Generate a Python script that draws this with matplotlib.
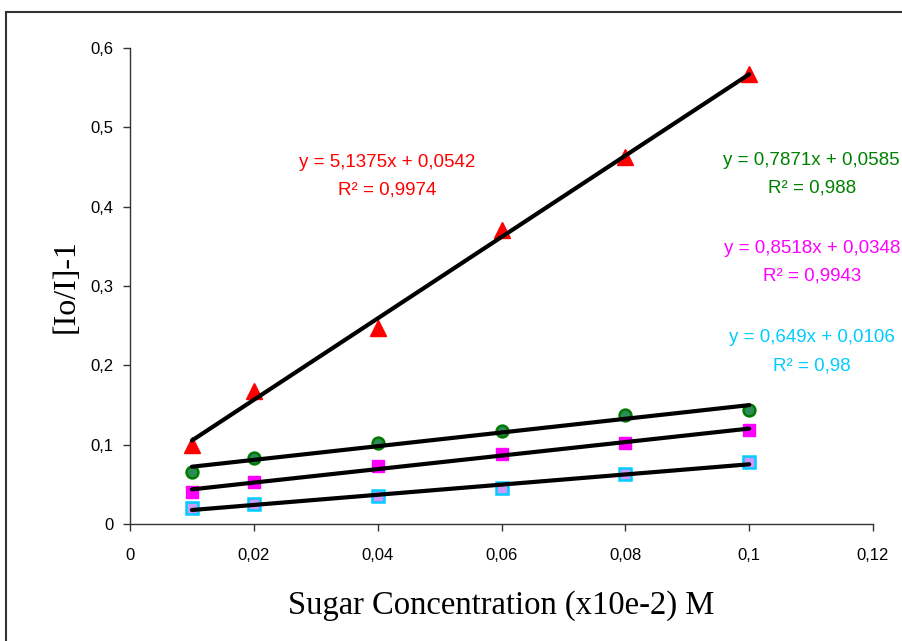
import numpy as np
import matplotlib
matplotlib.use("Agg")
import matplotlib.pyplot as plt
from matplotlib.patches import Rectangle

conc = [0.01, 0.02, 0.04, 0.06, 0.08, 0.1]
red_vals = [0.100, 0.168, 0.247, 0.370, 0.462, 0.567]
green_vals = [0.066, 0.083, 0.102, 0.117, 0.137, 0.144]
magenta_vals = [0.040, 0.053, 0.073, 0.088, 0.102, 0.119]
cyan_vals = [0.020, 0.025, 0.035, 0.045, 0.063, 0.078]

red_eq = ["y = 5,1375x + 0,0542", "R² = 0,9974"]
green_eq = ["y = 0,7871x + 0,0585", "R² = 0,988"]
magenta_eq = ["y = 0,8518x + 0,0348", "R² = 0,9943"]
cyan_eq = ["y = 0,649x + 0,0106", "R² = 0,98"]

xticks = [0, 0.02, 0.04, 0.06, 0.08, 0.1, 0.12]
yticks = [0, 0.1, 0.2, 0.3, 0.4, 0.5, 0.6]

fig = plt.figure(figsize=(9.02, 6.41), dpi=100)
ax = fig.add_axes([0.1441, 0.1825, 0.8238, 0.7426])

# outer frame (right/bottom run off the picture)
fig.patches.append(Rectangle((6 / 902, -0.2), 1.2, 1.2 - 12 / 641,
                             transform=fig.transFigure, fill=False,
                             edgecolor="#333333", linewidth=1.5))

series = [
    (red_vals, dict(marker="^", color="red", mec="red", ms=12)),
    (green_vals, dict(marker="o", color="#2E8B57", mec="#007A00", mew=1.8, ms=8.5)),
    (magenta_vals, dict(marker="s", color="#FF00FF", mec="#FF00FF", ms=8.5)),
    (cyan_vals, dict(marker="s", color="#CC99FF", mec="#00CCFF", mew=1.8, ms=8)),
]

x = np.array(conc)
for vals, st in series:
    ax.plot(conc, vals, linestyle="none", zorder=2, **st)
    k, b = np.polyfit(x, vals, 1)
    xs = np.array([conc[0], conc[-1]])
    ax.plot(xs, k * xs + b, color="black", linewidth=3, solid_capstyle="round", zorder=3)

eqs = [
    (red_eq, "red", 0.0415, 0.4563),
    (green_eq, "#008000", 0.1101, 0.4588),
    (magenta_eq, "#FF00FF", 0.1101, 0.3479),
    (cyan_eq, "#00CCFF", 0.1101, 0.2345),
]
for lines, c, ex, ey in eqs:
    ax.text(ex, ey, lines[0], color=c, ha="center", va="center",
            fontsize=13.5, family="Liberation Sans", clip_on=False)
    ax.text(ex, ey - 0.0353, lines[1], color=c, ha="center", va="center",
            fontsize=13.5, family="Liberation Sans", clip_on=False)

ax.set_xlim(0, 0.12)
ax.set_ylim(0, 0.6)
ax.set_xticks(xticks)
ax.set_yticks(yticks)
ax.set_xticklabels([("%g" % t).replace(".", ",") for t in xticks],
                   family="Liberation Sans", fontsize=12)
ax.set_yticklabels([("%g" % t).replace(".", ",") for t in yticks],
                   family="Liberation Sans", fontsize=12)
ax.tick_params(direction="out", length=5, width=1, color="#333333")
ax.tick_params(axis="x", pad=12)
ax.tick_params(axis="y", pad=7)

for s in ["top", "right"]:
    ax.spines[s].set_visible(False)
for s in ["left", "bottom"]:
    ax.spines[s].set_color("#333333")
    ax.spines[s].set_linewidth(1)

ax.set_xlabel("Sugar Concentration (x10e-2) M", family="Liberation Serif",
              fontsize=23.5, labelpad=20)
ax.set_ylabel("[Io/I]-1", family="Liberation Serif", fontsize=23, labelpad=7)

fig.savefig("out.png", dpi=100)
